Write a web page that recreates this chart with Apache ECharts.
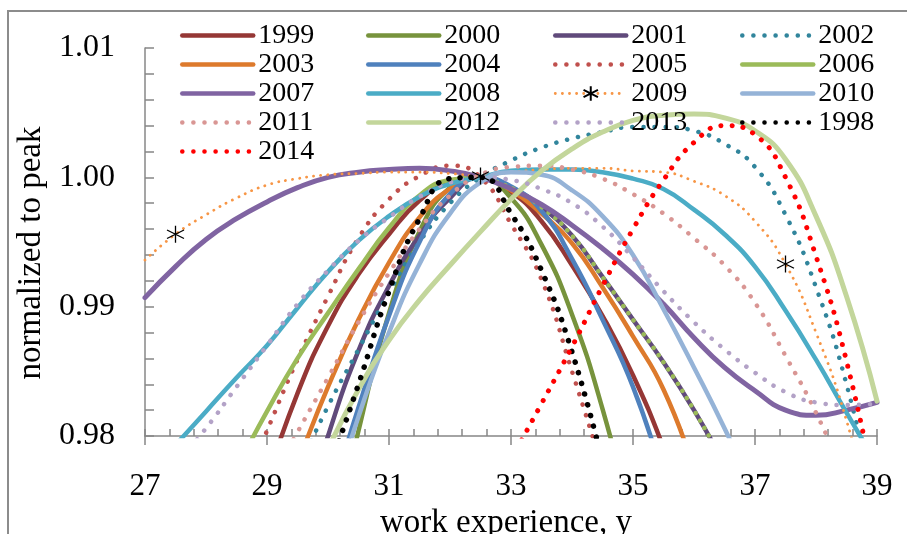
<!DOCTYPE html>
<html><head><meta charset="utf-8">
<script src="https://cdn.jsdelivr.net/npm/echarts@6/dist/echarts.min.js"></script>
<style>html,body{margin:0;padding:0;background:#fff}#c{width:907px;height:534px}</style>
</head><body><div id="c"></div>
<script>
// x grid (work experience, years)
const xValues = [27,27.5,28,28.5,29,29.5,30,30.5,31,31.5,32,32.5,33,33.5,34,34.5,35,35.5,36,36.5,37,37.5,38,38.5,39];
const xTicks = [27,29,31,33,35,37,39];
const yTicks = ['0.98','0.99','1.00','1.01'];
const _ = null;
const y1999 = [_,_,_,_,0.9766,0.9833,0.9885,0.9925,0.9956,0.9982,0.9997,1.0000,0.9989,0.9966,0.9932,0.9893,0.9847,0.9791,0.9725,_,_,_,_,_,_];
const y2000 = [_,_,_,_,_,_,0.9700,0.9804,0.9895,0.9958,0.9992,1.0000,0.9984,0.9948,0.9894,0.9821,0.9730,_,_,_,_,_,_,_,_];
const y2001 = [_,_,_,_,_,0.9720,0.9800,0.9866,0.9916,0.9955,0.9984,1.0000,0.9992,0.9977,0.9955,0.9923,0.9890,0.9857,0.9820,0.9778,_,_,_,_,_];
const y2002 = [_,_,_,_,_,0.9773,0.9823,0.9867,0.9911,0.9950,0.9980,1.0000,1.0013,1.0023,1.0030,1.0035,1.0039,1.0039,1.0036,1.0026,1.0008,0.9971,0.9915,0.9840,0.9740];
const y2003 = [_,_,_,_,0.9720,0.9779,0.9838,0.9890,0.9934,0.9969,0.9991,1.0000,0.9990,0.9972,0.9949,0.9915,0.9877,0.9836,0.9775,0.9705,_,_,_,_,_];
const y2004 = [_,_,_,_,_,_,0.9745,0.9822,0.9893,0.9950,0.9987,1.0000,0.9993,0.9974,0.9937,0.9890,0.9838,0.9768,0.9690,_,_,_,_,_,_];
const y2005 = [_,_,_,0.9747,0.9804,0.9859,0.9908,0.9953,0.9983,1.0001,1.0009,1.0000,0.9964,0.9921,0.9850,0.9775,_,_,_,_,_,_,_,_,_];
const y2006 = [_,_,_,0.9775,0.9819,0.9860,0.9895,0.9929,0.9961,0.9986,0.9998,1.0000,_,_,_,_,_,_,_,_,_,_,_,_,_];
// right-hand part of 2006, drawn dotted in the reference
const y2006Tail = [_,_,_,_,_,_,_,_,_,_,_,1.0000,0.9992,0.9977,0.9955,0.9923,0.9890,0.9857,0.9820,0.9778,_,_,_,_,_];
const y2007 = [0.9907,0.9931,0.9952,0.9968,0.9981,0.9992,1.0000,1.0004,1.0006,1.0007,1.0005,1.0000,0.9991,0.9979,0.9963,0.9945,0.9925,0.9902,0.9876,0.9853,0.9835,0.9820,0.9816,0.9820,0.9826];
const y2008 = [_,0.9793,0.9819,0.9845,0.9870,0.9899,0.9927,0.9951,0.9970,0.9985,0.9995,1.0000,1.0005,1.0006,1.0006,1.0004,0.9999,0.9991,0.9975,0.9956,0.9931,0.9897,0.9859,0.9818,0.9778];
const y2009 = [0.9936,0.9956,0.9971,0.9984,0.9994,0.9999,1.0002,1.0003,1.0004,1.0004,1.0003,1.0001,1.0004,1.0006,1.0007,1.0007,1.0005,1.0004,0.9997,0.9986,0.9966,0.9933,0.9880,0.9812,0.9720];
const markers2009 = [27.5, 32.5, 37.5];
const y2010 = [_,_,_,_,_,_,0.9740,0.9815,0.9880,0.9933,0.9972,0.9996,1.0004,1.0002,0.9990,0.9970,0.9940,0.9898,0.9853,0.9806,0.9755,_,_,_,_];
const y2011 = [_,_,_,_,0.9760,0.9803,0.9845,0.9888,0.9926,0.9960,0.9986,1.0002,1.0008,1.0009,1.0006,0.9999,0.9987,0.9972,0.9953,0.9932,0.9903,0.9862,0.9818,0.9765,_];
const y2012 = [_,_,_,_,_,_,0.9790,0.9836,0.9874,0.9905,0.9932,0.9958,0.9983,1.0005,1.0022,1.0035,1.0044,1.0048,1.0049,1.0046,1.0036,1.0014,0.9970,0.9908,0.9827];
const y2013 = [_,0.9778,0.9806,0.9838,0.9870,0.9902,0.9928,0.9951,0.9969,0.9985,0.9996,1.0000,0.9998,0.9991,0.9980,0.9962,0.9938,0.9912,0.9888,0.9867,0.9849,0.9834,0.9826,0.9824,0.9825];
const y1998 = [_,_,_,_,_,_,0.9772,0.9840,0.9912,0.9968,0.9999,1.0000,0.9972,0.9928,0.9865,0.9780,_,_,_,_,_,_,_,_,_];
const y2014 = [_,_,_,_,_,_,_,_,_,_,_,_,0.9782,0.9825,0.9869,0.9916,0.9960,0.9998,1.0027,1.0040,1.0033,1.0000,0.9939,0.9858,0.9750];

const FONT = 'Liberation Serif';
const DOT = [0.1, 11];
const defs = [
  {name:'1999', ys:y1999, color:'#953735', dash:'solid', w:4.5},
  {name:'2000', ys:y2000, color:'#77933C', dash:'solid', w:4.5},
  {name:'2001', ys:y2001, color:'#604A7B', dash:'solid', w:4.5},
  {name:'2002', ys:y2002, color:'#31859C', dash:DOT, w:4.5},
  {name:'2003', ys:y2003, color:'#DD7A2C', dash:'solid', w:4.5},
  {name:'2004', ys:y2004, color:'#4F81BD', dash:'solid', w:4.5},
  {name:'2005', ys:y2005, color:'#C0504D', dash:DOT, w:4.5},
  {name:'2006', ys:y2006, color:'#9BBB59', dash:'solid', w:4.5},
  {name:'2006', ys:y2006Tail, color:'#9BBB59', dash:[0.1,8.5], w:4.5, tail:true},
  {name:'2007', ys:y2007, color:'#8064A2', dash:'solid', w:5},
  {name:'2008', ys:y2008, color:'#4BACC6', dash:'solid', w:4.5},
  {name:'2009', ys:y2009, color:'#F79646', dash:[0.1,7], w:2.8, markers:markers2009},
  {name:'2010', ys:y2010, color:'#95B3D7', dash:'solid', w:4.5},
  {name:'2011', ys:y2011, color:'#D99694', dash:DOT, w:4.5},
  {name:'2012', ys:y2012, color:'#C3D69B', dash:'solid', w:5},
  {name:'2013', ys:y2013, color:'#B3A2C7', dash:DOT, w:4.5},
  {name:'1998', ys:y1998, color:'#000000', dash:DOT, w:5.5},
  {name:'2014', ys:y2014, color:'#FF0000', dash:DOT, w:5}
];
const ASTER = 'path://M0,-1L0,1M-0.87,-0.5L0.87,0.5M-0.87,0.5L0.87,-0.5';

const series = defs.map(d => {
  const data = [];
  d.ys.forEach((y, i) => {
    if (y === null) return;
    const x = xValues[i];
    if (d.markers) data.push(d.markers.includes(x) ? {value:[x,y]} : {value:[x,y], symbol:'none'});
    else data.push([x, y]);
  });
  return {
    type:'line', name:d.name, data, smooth:true, clip:true,
    symbol: d.markers ? ASTER : 'none', symbolSize: 17,
    showSymbol: !!d.markers, showAllSymbol: true,
    itemStyle: d.markers ? {color:'#000', borderColor:'#000', borderWidth:1.3} : {color:d.color},
    lineStyle:{color:d.color, width:d.w, type:d.dash, cap:'round', join:'round'},
    emphasis:{disabled:true}, silent:true, animation:false
  };
});

const byName = {};
defs.forEach(d => { if (!d.tail) byName[d.name] = d; });
const cols = [['1999','2003','2007','2011','2014'],['2000','2004','2008','2012'],['2001','2005','2009','2013'],['2002','2006','2010','1998']];
const colLeft = [180, 366, 553, 740];
const legends = cols.map((names, i) => ({
  orient:'vertical', left:colLeft[i], top:21, padding:0, itemGap:0,
  itemWidth:71, itemHeight:18, selectedMode:false,
  itemStyle:{opacity:0},
  textStyle:{fontFamily:FONT, fontSize:28, lineHeight:29, color:'#000'},
  data: names.map(n => {
    const d = byName[n];
    const item = {name:n, lineStyle:{width:d.w > 4.5 ? 4.5 : d.w, type:d.dash, cap:'round', color:d.color}};
    if (d.markers) item.itemStyle = {opacity:1};
    return item;
  })
}));

const axisGrey = '#878787';
const chart = echarts.init(document.getElementById('c'), null, {renderer:'canvas'});
chart.setOption({
  animation:false,
  backgroundColor:'#fff',
  graphic:[{type:'rect', shape:{x:8, y:11, width:1200, height:1200}, style:{fill:'none', stroke:'#8c8c8c', lineWidth:2}, silent:true}],
  legend: legends,
  grid:{left:145, right:30, top:48, bottom:98, containLabel:false, outerBoundsMode:'none'},
  xAxis:[
    {type:'value', min:xTicks[0], max:xTicks[xTicks.length-1], interval:2, position:'bottom',
     axisLine:{show:true, lineStyle:{color:axisGrey, width:1.5}},
     axisTick:{show:true, inside:false, length:9, lineStyle:{color:axisGrey, width:1.5}},
     minorTick:{show:false}, splitLine:{show:false},
     axisLabel:{margin:35, fontFamily:FONT, fontSize:31, color:'#000'},
     name:'work experience, y', nameLocation:'middle', nameGap:70,
     nameTextStyle:{fontFamily:FONT, fontSize:33, color:'#000', padding:[0,10,0,0]}},
    {type:'value', min:xTicks[0], max:xTicks[xTicks.length-1], interval:2, position:'bottom',
     axisLine:{show:false}, axisLabel:{show:false}, splitLine:{show:false},
     axisTick:{show:true, inside:true, length:7, lineStyle:{color:axisGrey, width:1.5}},
     minorTick:{show:true, splitNumber:5, length:7, lineStyle:{color:axisGrey, width:1.5}}}
  ],
  yAxis:{type:'value', min:0.98, max:1.01, interval:0.01,
     axisLine:{show:true, lineStyle:{color:axisGrey, width:1.5}},
     axisTick:{show:true, inside:true, length:9, lineStyle:{color:axisGrey, width:1.5}},
     minorTick:{show:true, splitNumber:5, length:9, lineStyle:{color:axisGrey, width:1.5}},
     splitLine:{show:false},
     axisLabel:{margin:30, fontFamily:FONT, fontSize:32, color:'#000',
       formatter: v => yTicks.find(t => Math.abs(parseFloat(t) - v) < 1e-6) || v.toFixed(2)},
     name:'normalized to peak', nameLocation:'middle', nameGap:96,
     nameTextStyle:{fontFamily:FONT, fontSize:33, color:'#000', padding:[0,22,0,0]}},
  series
});
</script></body></html>
